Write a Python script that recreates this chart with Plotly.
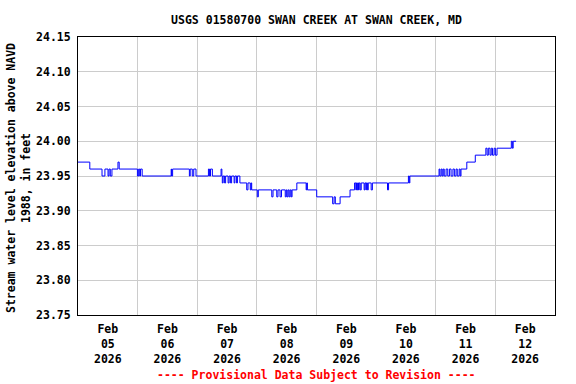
import plotly.graph_objects as go
import pandas as pd

# Step-change times (EST) and gage levels (ft above NAVD 1988)
change_times = [
    "2026-02-05 00:00", "2026-02-05 04:45", "2026-02-05 09:40", "2026-02-05 10:50",
    "2026-02-05 12:05", "2026-02-05 12:30", "2026-02-05 13:00", "2026-02-05 13:40",
    "2026-02-05 16:05", "2026-02-05 16:35", "2026-02-05 23:55", "2026-02-06 00:25",
    "2026-02-06 00:50", "2026-02-06 01:10", "2026-02-06 01:50", "2026-02-06 13:30",
    "2026-02-06 13:40", "2026-02-06 14:05", "2026-02-06 20:50", "2026-02-06 21:10",
    "2026-02-06 22:00", "2026-02-06 22:35", "2026-02-06 23:30", "2026-02-07 04:30",
    "2026-02-07 04:55", "2026-02-07 05:20", "2026-02-07 06:05", "2026-02-07 09:35",
    "2026-02-07 09:55", "2026-02-07 10:05", "2026-02-07 10:25", "2026-02-07 11:00",
    "2026-02-07 11:25", "2026-02-07 12:25", "2026-02-07 12:50", "2026-02-07 13:25",
    "2026-02-07 13:50", "2026-02-07 14:50", "2026-02-07 15:10", "2026-02-07 15:50",
    "2026-02-07 16:10", "2026-02-07 17:10", "2026-02-07 19:55", "2026-02-07 20:25",
    "2026-02-07 21:20", "2026-02-07 21:40", "2026-02-07 21:55", "2026-02-08 00:10",
    "2026-02-08 00:35", "2026-02-08 06:00", "2026-02-08 06:30", "2026-02-08 08:00",
    "2026-02-08 08:30", "2026-02-08 09:20", "2026-02-08 09:55", "2026-02-08 11:25",
    "2026-02-08 11:50", "2026-02-08 12:10", "2026-02-08 12:35", "2026-02-08 13:00",
    "2026-02-08 13:25", "2026-02-08 13:50", "2026-02-08 14:10", "2026-02-08 16:05",
    "2026-02-08 19:50", "2026-02-08 20:05", "2026-02-08 20:20", "2026-02-09 00:05",
    "2026-02-09 06:30", "2026-02-09 07:05", "2026-02-09 07:35", "2026-02-09 09:30",
    "2026-02-09 13:30", "2026-02-09 15:20", "2026-02-09 15:50", "2026-02-09 16:05",
    "2026-02-09 16:25", "2026-02-09 16:40", "2026-02-09 16:55", "2026-02-09 17:10",
    "2026-02-09 17:35", "2026-02-09 18:00", "2026-02-09 19:10", "2026-02-09 19:30",
    "2026-02-09 19:55", "2026-02-09 20:05", "2026-02-09 20:30", "2026-02-09 20:50",
    "2026-02-09 22:00", "2026-02-09 22:30", "2026-02-10 04:35", "2026-02-10 05:00",
    "2026-02-10 13:00", "2026-02-10 13:20", "2026-02-10 13:35", "2026-02-11 01:20",
    "2026-02-11 01:40", "2026-02-11 02:10", "2026-02-11 02:35", "2026-02-11 03:00",
    "2026-02-11 03:25", "2026-02-11 04:10", "2026-02-11 04:50", "2026-02-11 05:30",
    "2026-02-11 06:10", "2026-02-11 06:55", "2026-02-11 07:30", "2026-02-11 08:10",
    "2026-02-11 08:40", "2026-02-11 09:25", "2026-02-11 09:50", "2026-02-11 10:10",
    "2026-02-11 12:30", "2026-02-11 15:55", "2026-02-11 20:10", "2026-02-11 20:40",
    "2026-02-11 21:10", "2026-02-11 21:50", "2026-02-11 22:20", "2026-02-11 22:50",
    "2026-02-11 23:30", "2026-02-12 00:00", "2026-02-12 00:40", "2026-02-12 06:25",
    "2026-02-12 06:50", "2026-02-12 07:10", "2026-02-12 08:20",
]
levels = [
    23.97, 23.96, 23.95, 23.96,
    23.95, 23.96, 23.95, 23.96,
    23.97, 23.96, 23.95, 23.96,
    23.95, 23.96, 23.95, 23.96,
    23.95, 23.96, 23.95, 23.96,
    23.95, 23.96, 23.95, 23.96,
    23.95, 23.96, 23.95, 23.96,
    23.95, 23.94, 23.95, 23.94,
    23.95, 23.94, 23.95, 23.94,
    23.95, 23.94, 23.95, 23.94,
    23.95, 23.94, 23.93, 23.94,
    23.93, 23.94, 23.93, 23.92,
    23.93, 23.92, 23.93, 23.92,
    23.93, 23.92, 23.93, 23.92,
    23.93, 23.92, 23.93, 23.92,
    23.93, 23.92, 23.93, 23.94,
    23.93, 23.94, 23.93, 23.92,
    23.91, 23.92, 23.91, 23.92,
    23.93, 23.94, 23.93, 23.94,
    23.93, 23.94, 23.93, 23.94,
    23.93, 23.94, 23.93, 23.94,
    23.93, 23.94, 23.93, 23.94,
    23.93, 23.94, 23.93, 23.94,
    23.95, 23.94, 23.95, 23.96,
    23.95, 23.96, 23.95, 23.96,
    23.95, 23.96, 23.95, 23.96,
    23.95, 23.96, 23.95, 23.96,
    23.95, 23.96, 23.95, 23.96,
    23.97, 23.98, 23.99, 23.98,
    23.99, 23.98, 23.99, 23.98,
    23.99, 23.98, 23.99, 24.00,
    23.99, 24.00, 24.00,
]

day_ticks = ["2026-02-05", "2026-02-06", "2026-02-07", "2026-02-08",
             "2026-02-09", "2026-02-10", "2026-02-11", "2026-02-12", "2026-02-13"]
day_labels = ["Feb<br>05<br>2026", "Feb<br>06<br>2026", "Feb<br>07<br>2026", "Feb<br>08<br>2026",
              "Feb<br>09<br>2026", "Feb<br>10<br>2026", "Feb<br>11<br>2026", "Feb<br>12<br>2026"]

title_text = "USGS 01580700 SWAN CREEK AT SWAN CREEK, MD"
ytitle = "Stream water level elevation above NAVD<br>1988, in feet"
footer = "---- Provisional Data Subject to Revision ----"

times = pd.to_datetime(change_times)
days = pd.to_datetime(day_ticks)
label_pos = [d + pd.Timedelta(hours=12) for d in days[:-1]]

FONT = "DejaVu Sans Mono"

fig = go.Figure()
fig.add_trace(go.Scatter(
    x=times, y=levels, mode="lines", line=dict(color="#0000ff", width=1, shape="hv"),
    hoverinfo="skip", showlegend=False,
))

W, H = 576, 384
L, R, T, B = 78, 21, 37, 69

fig.update_layout(
    width=W, height=H,
    margin=dict(l=L, r=R, t=T, b=B),
    paper_bgcolor="white", plot_bgcolor="white",
    font=dict(family=FONT, size=11.5, color="black", weight="bold"),
    title=dict(text=title_text, x=(L + (W - L - R) / 2) / W, xanchor="center",
               y=1 - 20 / H, yanchor="middle",
               font=dict(family=FONT, size=11.5, color="black", weight="bold")),
    xaxis=dict(
        type="date", range=[days[0], days[-1]],
        tickmode="array", tickvals=label_pos, ticktext=day_labels,
        showgrid=False, ticks="", zeroline=False, ticklabelstandoff=3,
        showline=True, linecolor="black", linewidth=1, mirror=True,
        minor=dict(tickmode="array", tickvals=list(days), showgrid=True,
                   gridcolor="#cccccc", gridwidth=1, ticks=""),
        tickfont=dict(family=FONT, size=11.5, color="black", weight="bold"),
    ),
    yaxis=dict(
        range=[23.75, 24.15], tickmode="linear", tick0=23.75, dtick=0.05,
        tickformat=".2f", showgrid=True, gridcolor="#cccccc", gridwidth=1,
        zeroline=False, ticks="", ticklabelstandoff=4,
        showline=True, linecolor="black", linewidth=1, mirror=True,
        tickfont=dict(family=FONT, size=11.5, color="black", weight="bold"),
    ),
    annotations=[
        dict(text=ytitle, xref="paper", yref="paper",
             x=(18 - L) / (W - L - R), y=(H - B - 178) / (H - T - B),
             xanchor="center", yanchor="middle", textangle=-90, showarrow=False,
             font=dict(family=FONT, size=11.5, color="black", weight="bold")),
        dict(text=footer, xref="paper", yref="paper",
             x=0.5, y=-(375 - (H - B)) / (H - T - B),
             xanchor="center", yanchor="middle", showarrow=False,
             font=dict(family=FONT, size=11.5, color="#ff0000", weight="bold")),
    ],
)

fig.write_html("out.html", config={"displayModeBar": False},
               post_script="document.body.style.margin='0px';")
